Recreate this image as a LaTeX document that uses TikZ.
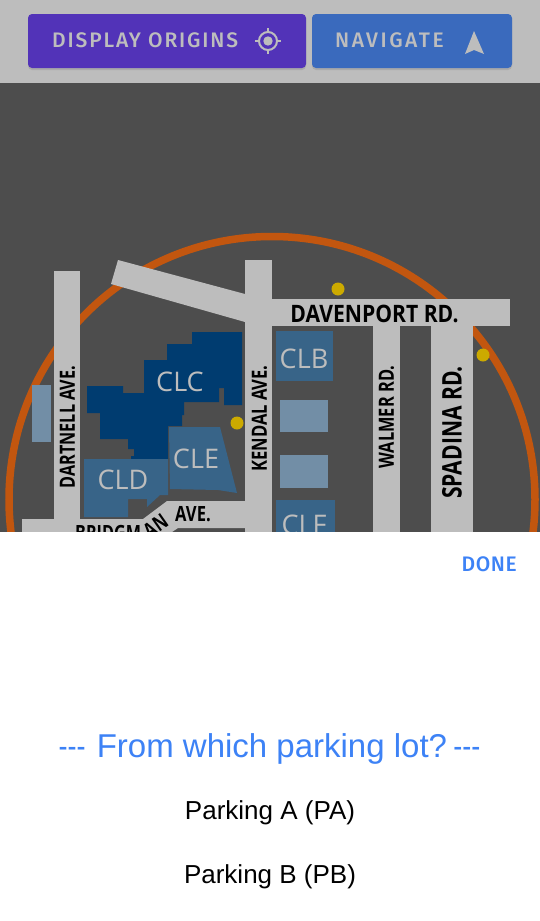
\documentclass[tikz,border=0pt]{standalone}
\usepackage{fontspec}
\usepackage{graphicx}
\setmainfont{Liberation Sans}
\newfontfamily\btnfont[LetterSpace=8.8]{Fira Sans Medium}
\newfontfamily\donefont[LetterSpace=3]{Fira Sans Medium}
\newfontfamily\mapfont{Open Sans}[BoldFont={Open Sans Bold}]
\newfontfamily\bldgfont{Open Sans}
\usetikzlibrary{shadows}
\definecolor{topgray}{HTML}{BDBDBD}
\definecolor{mapgray}{HTML}{4D4D4D}
\definecolor{purplebtn}{HTML}{5233B8}
\definecolor{bluebtn}{HTML}{3A6ABD}
\definecolor{ringorange}{HTML}{C2560F}
\definecolor{darkbldg}{HTML}{003C70}
\definecolor{midbldg}{HTML}{386488}
\definecolor{palebldg}{HTML}{728EA6}
\definecolor{dotyellow}{HTML}{CCAA00}
\definecolor{linkblue}{HTML}{3D82F6}
\begin{document}
\begin{tikzpicture}[x=1pt,y=-1pt,
  road/.style={fill=topgray,draw=none},
  dot/.style={circle,fill=dotyellow,minimum size=13pt,inner sep=0pt},
  bldglabel/.style={text=topgray,inner sep=0pt,font=\bldgfont\fontsize{27}{27}\selectfont},
  roadlabel/.style={text=black,inner sep=0pt,font=\mapfont\bfseries\fontsize{21}{21}\selectfont},
  button/.style={rounded corners=4pt,drop shadow={shadow xshift=0pt,shadow yshift=-2pt,opacity=.3}},
  btnlabel/.style={text=topgray,inner sep=0pt,anchor=base west,font=\btnfont\fontsize{21}{21}\selectfont},
  choice/.style={inner sep=0pt,anchor=base,font=\fontsize{26}{26}\selectfont}
  ]
    \useasboundingbox (0,0) rectangle (540,921);
    % panels
    \fill[topgray] (0,0) rectangle (540,83);
    \fill[mapgray] (0,83) rectangle (540,532);

    % ring under the roads
    \draw[ringorange,line width=7.5pt] (272,499.5) circle (263);

    % roads
    \fill[road] (54,271) rectangle (80,532);
    \fill[road] (245,260) rectangle (272,532);
    \fill[road] (373,326) rectangle (400,532);
    \fill[road] (431,326) rectangle (473,532);
    \fill[road] (272,299) rectangle (510,326);
    \fill[road] (118,260) -- (245,294) -- (245,322) -- (111,284) -- cycle;
    \fill[road] (22,519) -- (143,519) -- (167,501) -- (245,501) -- (245,528) -- (178,528) -- (172,532) -- (22,532) -- cycle;

    % buildings
    \fill[darkbldg] (192,332) -- (242,332) -- (242,405) -- (224,405) -- (224,388) -- (219,388) -- (219,402)
        -- (184,402) -- (184,415) -- (182,415) -- (182,426) -- (168,426) -- (168,459) -- (131,459) -- (131,456)
        -- (134,456) -- (134,449) -- (128,449) -- (128,439) -- (100,439) -- (100,413) -- (87,413) -- (87,386)
        -- (123,386) -- (123,393) -- (144,393) -- (144,360) -- (167,360) -- (167,344) -- (192,344) -- cycle;
    \fill[midbldg] (84,459) -- (168,459) -- (168,495) -- (160,495) -- (147,507) -- (147,499) -- (128,499) -- (128,517) -- (84,517) -- cycle;
    \fill[midbldg] (169,427) -- (220,427) -- (237,493) -- (218,490) -- (170,489) -- cycle;
    \fill[midbldg] (276,331) rectangle (333,381);
    \fill[midbldg] (276,500) rectangle (335,540);
    \fill[palebldg] (32,385) rectangle (51,442);
    \fill[palebldg] (280,400) rectangle (328,432);
    \fill[palebldg] (280,455) rectangle (328,488);

    \node[bldglabel] (clc) at (180,382) {CLC};
    \node[bldglabel] (cld) at (123,480) {CLD};
    \node[bldglabel] (cle) at (196,459) {CLE};
    \node[bldglabel] (clb) at (304,359) {CLB};
    \node[bldglabel] (clf) at (304,524.5) {CLF};

    \node[dot] (dota) at (338,289) {};
    \node[dot] (dotb) at (483,355) {};
    \node[dot] (dotc) at (237,423) {};

    \node[roadlabel,font=\mapfont\bfseries\fontsize{24}{24}\selectfont] (davenport) at (374.5,313.5) {\scalebox{.88}[1]{DAVENPORT RD.}};
    \node[roadlabel,rotate=90] (dartnell) at (67.5,427) {\scalebox{.77}[1]{DARTNELL AVE.}};
    \node[roadlabel,rotate=90] (kendal) at (259.5,418.5) {\scalebox{.79}[1]{KENDAL AVE.}};
    \node[roadlabel,rotate=90] (walmer) at (386.5,417) {\scalebox{.78}[1]{WALMER RD.}};
    \node[roadlabel,rotate=90,font=\mapfont\bfseries\fontsize{27}{27}\selectfont] (spadina) at (452,432.5) {\scalebox{.78}[1]{SPADINA RD.}};
    \node[roadlabel,anchor=base west] (bridgman) at (75,540) {\scalebox{.77}[1]{BRIDGM}};
    \node[roadlabel,rotate=35] (bridgmanend) at (155.5,526) {\scalebox{.77}[1]{AN}};
    \node[roadlabel] (ave) at (193,514.5) {\scalebox{.79}[1]{AVE.}};

    % sheet over the map
    \fill[white] (0,532) rectangle (540,921);

    % top buttons
    \fill[button,purplebtn] (28,14) rectangle (306,68);
    \fill[button,bluebtn] (312,14) rectangle (512,68);
    \node[btnlabel] (origins) at (52,47) {DISPLAY ORIGINS};
    \node[btnlabel] (navigate) at (335,47) {\addfontfeature{LetterSpace=12}NAVIGATE};
    \draw[topgray,line width=2pt] (268,41) circle (9);
    \fill[topgray] (268,41) circle (4.7);
    \foreach \dx/\dy in {1/0,-1/0,0/1,0/-1}
        \draw[topgray,line width=2pt] (268+9*\dx,41+9*\dy) -- (268+13*\dx,41+13*\dy);
    \fill[topgray] (474,31) -- (484,54) -- (474,50) -- (465,54) -- cycle;

    % sheet texts
    \node[text=linkblue,inner sep=0pt,anchor=base east,font=\donefont\fontsize{21}{21}\selectfont] (done) at (517,571) {DONE};
    \node[choice,text=linkblue,font=\fontsize{33}{33}\selectfont] (title) at (269.5,757) {\scalebox{.82}[1]{-{}-{}-} \hspace{2pt}From which parking lot?\hspace{-6pt} \scalebox{.82}[1]{-{}-{}-}};
    \node[choice] (parka) at (270,819.5) {Parking A (PA)};
    \node[choice] (parkb) at (270,883.5) {Parking B (PB)};
\end{tikzpicture}
\end{document}
